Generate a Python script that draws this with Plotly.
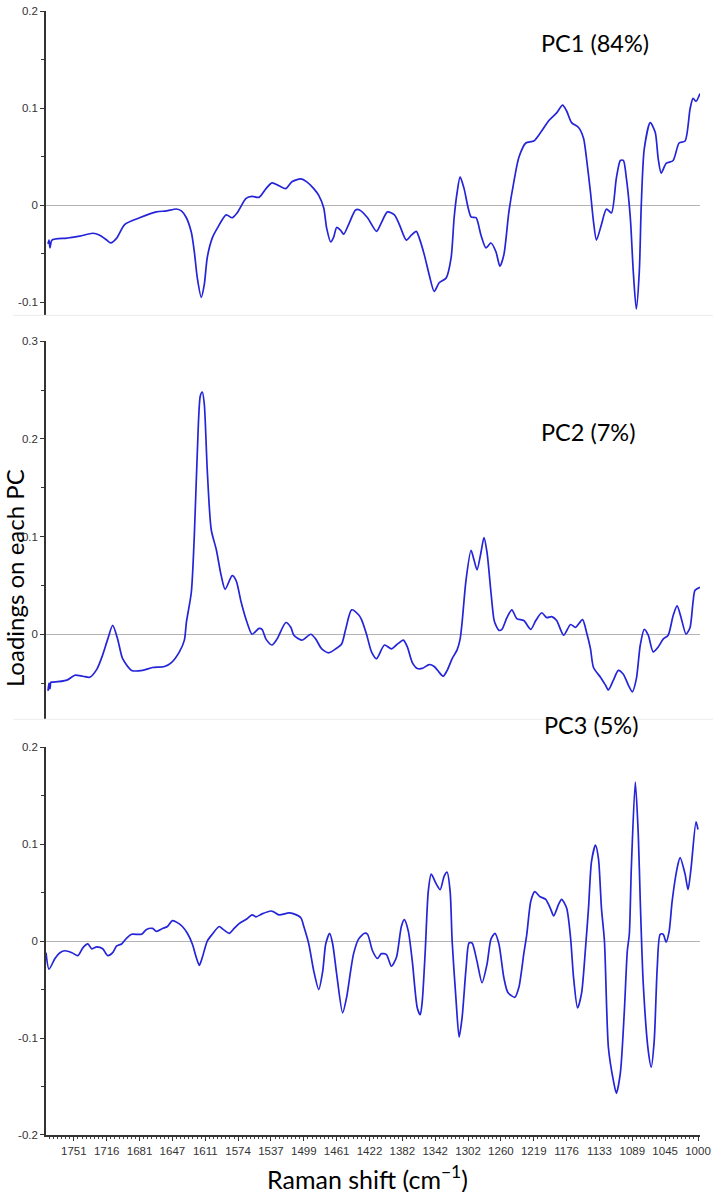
import plotly.graph_objects as go
from plotly.subplots import make_subplots

# Spectral point index (x) and loadings (y) for each principal component
pc1_x = [2, 3, 4, 6, 21, 34, 47, 54, 61, 65, 71, 79, 94, 111, 121, 131, 136, 141, 146, 149, 152, 156, 159, 162,
         167, 172, 181, 187, 192, 201, 207, 214, 221, 227, 234, 241, 247, 256, 262, 269, 274, 279, 282, 286,
         289, 292, 296, 299, 304, 311, 315, 323, 332, 337, 343, 350, 355, 362, 367, 372, 375, 380, 385, 390,
         395, 402, 407, 410, 413, 416, 420, 427, 432, 437, 442, 447, 452, 456, 460, 465, 470, 475, 482, 490,
         497, 505, 513, 519, 523, 528, 535, 540, 543, 547, 550, 553, 558, 563, 568, 573, 577, 580, 583, 587,
         590, 593, 596, 598, 601, 607, 612, 615, 618, 623, 630, 636, 642, 647, 650, 653, 657]
pc1_y = [-0.040, -0.036, -0.044, -0.036, -0.034, -0.032, -0.029, -0.031, -0.036, -0.039, -0.034, -0.020,
         -0.013, -0.007, -0.006, -0.004, -0.006, -0.013, -0.028, -0.048, -0.075, -0.095, -0.082, -0.054,
         -0.034, -0.024, -0.010, -0.013, -0.008, 0.007, 0.009, 0.008, 0.017, 0.023, 0.020, 0.017, 0.024,
         0.027, 0.024, 0.017, 0.010, -0.003, -0.024, -0.038, -0.033, -0.023, -0.026, -0.030, -0.020, -0.005,
         -0.005, -0.013, -0.027, -0.018, -0.007, -0.010, -0.020, -0.036, -0.031, -0.027, -0.034, -0.051,
         -0.072, -0.089, -0.080, -0.075, -0.054, -0.013, 0.013, 0.029, 0.017, -0.012, -0.013, -0.031, -0.044,
         -0.039, -0.048, -0.063, -0.051, -0.007, 0.024, 0.049, 0.064, 0.066, 0.075, 0.087, 0.095, 0.103,
         0.097, 0.085, 0.080, 0.069, 0.048, 0.013, -0.017, -0.036, -0.020, -0.004, -0.008, 0.028, 0.046,
         0.046, 0.028, -0.013, -0.069, -0.107, -0.069, 0.000, 0.058, 0.085, 0.075, 0.048, 0.033, 0.043,
         0.046, 0.064, 0.066, 0.099, 0.110, 0.107, 0.115]

pc2_x = [2, 3, 4, 5, 7, 21, 29, 37, 44, 51, 57, 62, 67, 72, 77, 86, 97, 107, 119, 126, 134, 139, 141, 146,
         149, 152, 155, 157, 159, 162, 166, 171, 176, 180, 187, 191, 196, 202, 207, 214, 217, 221, 227, 232,
         241, 246, 249, 257, 266, 271, 277, 284, 291, 297, 301, 307, 314, 317, 322, 327, 332, 340, 347, 352,
         359, 363, 368, 373, 378, 385, 390, 395, 399, 403, 408, 413, 416, 418, 422, 427, 430, 433, 437, 440,
         443, 447, 450, 452, 455, 458, 463, 468, 473, 480, 487, 492, 498, 503, 508, 513, 520, 527, 532, 539,
         543, 547, 550, 557, 562, 565, 570, 575, 580, 585, 589, 593, 597, 601, 605, 610, 615, 620, 625, 630,
         634, 638, 643, 647, 650, 652, 657]
pc2_y = [-0.058, -0.050, -0.056, -0.049, -0.049, -0.047, -0.042, -0.043, -0.044, -0.036, -0.021, -0.005,
         0.009, -0.005, -0.025, -0.037, -0.037, -0.034, -0.033, -0.029, -0.018, -0.006, 0.012, 0.043, 0.101,
         0.186, 0.244, 0.248, 0.236, 0.168, 0.107, 0.087, 0.060, 0.046, 0.060, 0.055, 0.033, 0.012, 0.000,
         0.006, 0.005, -0.005, -0.011, -0.005, 0.012, 0.007, -0.001, -0.006, 0.000, -0.005, -0.015, -0.019,
         -0.015, -0.010, 0.005, 0.025, 0.020, 0.015, 0.000, -0.018, -0.025, -0.011, -0.015, -0.011, -0.006,
         -0.013, -0.029, -0.035, -0.035, -0.031, -0.033, -0.039, -0.043, -0.037, -0.025, -0.016, -0.005,
         0.012, 0.056, 0.086, 0.076, 0.066, 0.084, 0.099, 0.084, 0.043, 0.015, 0.009, 0.004, 0.005, 0.017,
         0.025, 0.016, 0.014, 0.005, 0.014, 0.022, 0.017, 0.018, 0.014, -0.001, 0.010, 0.007, 0.015, 0.002,
         -0.015, -0.034, -0.044, -0.052, -0.057, -0.047, -0.037, -0.041, -0.052, -0.059, -0.046, -0.011,
         0.005, -0.001, -0.018, -0.013, -0.005, -0.001, 0.019, 0.029, 0.017, 0.000, 0.007, 0.033, 0.045,
         0.048]

pc3_x = [0, 3, 9, 14, 19, 26, 32, 37, 42, 46, 51, 57, 62, 67, 71, 76, 81, 86, 96, 101, 107, 111, 117, 122,
         127, 132, 137, 142, 147, 151, 154, 157, 162, 167, 174, 178, 184, 189, 194, 202, 207, 211, 217, 226,
         229, 234, 244, 249, 256, 259, 264, 269, 274, 278, 281, 285, 288, 292, 298, 302, 306, 309, 314, 320,
         323, 328, 333, 337, 342, 347, 352, 357, 360, 364, 368, 373, 376, 378, 381, 384, 387, 392, 396, 400,
         403, 406, 408, 412, 415, 418, 422, 425, 428, 433, 438, 443, 447, 451, 455, 460, 464, 471, 475, 480,
         483, 487, 491, 496, 502, 507, 510, 515, 518, 523, 527, 530, 534, 538, 542, 545, 548, 552, 555, 558,
         561, 565, 570, 573, 577, 581, 584, 586, 588, 592, 595, 597, 600, 605, 608, 611, 614, 617, 620, 623,
         626, 629, 634, 637, 642, 645, 648, 653, 655]
pc3_y = [-0.012, -0.029, -0.018, -0.012, -0.010, -0.012, -0.015, -0.007, -0.003, -0.008, -0.006, -0.008,
         -0.015, -0.012, -0.005, -0.003, 0.003, 0.007, 0.007, 0.012, 0.013, 0.010, 0.013, 0.015, 0.021,
         0.019, 0.015, 0.008, -0.003, -0.017, -0.025, -0.017, 0.000, 0.007, 0.015, 0.012, 0.008, 0.013,
         0.018, 0.023, 0.027, 0.025, 0.028, 0.031, 0.030, 0.027, 0.029, 0.028, 0.024, 0.015, -0.003, -0.031,
         -0.050, -0.031, -0.003, 0.008, -0.003, -0.034, -0.074, -0.058, -0.031, -0.013, 0.002, 0.008, 0.007,
         -0.010, -0.018, -0.013, -0.014, -0.026, -0.017, 0.015, 0.022, 0.010, -0.021, -0.069, -0.076, -0.062,
         -0.010, 0.051, 0.069, 0.059, 0.053, 0.067, 0.071, 0.051, 0.000, -0.062, -0.099, -0.079, -0.028,
         -0.002, -0.002, -0.021, -0.043, -0.024, 0.002, 0.008, -0.003, -0.038, -0.053, -0.058, -0.048,
         -0.013, 0.007, 0.041, 0.051, 0.046, 0.043, 0.033, 0.026, 0.038, 0.043, 0.034, 0.003, -0.038, -0.069,
         -0.054, -0.007, 0.034, 0.082, 0.099, 0.085, 0.034, 0.000, -0.110, -0.144, -0.157, -0.136, -0.072,
         -0.010, 0.007, 0.075, 0.164, 0.110, 0.041, -0.044, -0.113, -0.130, -0.103, -0.028, 0.007, 0.007,
         -0.001, 0.010, 0.041, 0.075, 0.086, 0.069, 0.053, 0.075, 0.123, 0.115]

tick_pos = [28, 61, 94, 127, 160, 193, 226, 259, 292, 325, 358, 391, 424, 457, 490, 523, 556, 589, 622, 655]
tick_labels = ["1751", "1716", "1681", "1647", "1611", "1574", "1537", "1499", "1461", "1422", "1382",
               "1342", "1302", "1260", "1219", "1176", "1133", "1089", "1045", "1000"]
pc_labels = ["PC1 (84%)", "PC2 (7%)", "PC3 (5%)"]

LINE = "#2424d8"
TICKFONT = dict(family="Liberation Sans, Arial, sans-serif", size=11.5, color="#333333")
TEXTFONT = "Lato, Carlito, Calibri, sans-serif"

fig = make_subplots(rows=3, cols=1, shared_xaxes=False, vertical_spacing=0.02)
for i, (xs, ys) in enumerate([(pc1_x, pc1_y), (pc2_x, pc2_y), (pc3_x, pc3_y)]):
    fig.add_trace(go.Scatter(x=xs, y=ys, mode="lines", line=dict(color=LINE, width=1.7, shape="spline",
                                                                smoothing=0.7),
                             showlegend=False, hoverinfo="skip"), row=i + 1, col=1)

ydomains = [[0.7292, 1.0], [0.3699, 0.7062], [0.0, 0.3451]]
yranges = [[-0.1136, 0.2], [-0.087, 0.3], [-0.2, 0.2]]
yticks = [[-0.1, 0, 0.1, 0.2], [0, 0.1, 0.2, 0.3], [-0.2, -0.1, 0, 0.1, 0.2]]

layout = dict(width=716, height=1192, margin=dict(l=46, r=13, t=5, b=57),
              paper_bgcolor="white", plot_bgcolor="white")
for i in range(3):
    sfx = "" if i == 0 else str(i + 1)
    layout["yaxis" + sfx] = dict(
        domain=ydomains[i], range=yranges[i], tickvals=yticks[i],
        ticktext=[("0" if v == 0 else ("%g" % v)) for v in yticks[i]],
        showline=True, linecolor="#333333", linewidth=1.5, ticks="outside", ticklen=4,
        tickcolor="#333333", tickfont=TICKFONT, showgrid=False,
        zeroline=True, zerolinecolor="#b4b4b4", zerolinewidth=1.2,
        minor=dict(dtick=0.05, tick0=0, ticks="outside", ticklen=3, tickcolor="#333333"))
    xa = dict(domain=[0, 1], range=[0, 657], showgrid=False, zeroline=False)
    if i < 2:
        xa.update(showline=False, showticklabels=False, ticks="")
    else:
        xa.update(showline=True, linecolor="#333333", linewidth=1.5, ticks="outside", ticklen=4,
                  tickcolor="#333333", tickvals=tick_pos, ticktext=tick_labels, tickfont=TICKFONT,
                  minor=dict(tick0=28, dtick=4.125, ticks="outside", ticklen=2.5, tickcolor="#444444"))
    layout["xaxis" + sfx] = xa
fig.update_layout(**layout)

# faint separators between panels
for yb in [0.7292, 0.3699]:
    fig.add_shape(type="line", xref="paper", yref="paper", x0=-0.05, x1=1.02, y0=yb, y1=yb,
                  line=dict(color="#ececec", width=1))

label_pos = [(0.840, 0.9717), (0.828, 0.6257), (0.8326, 0.3646)]
for txt, (ax, ay) in zip(pc_labels, label_pos):
    fig.add_annotation(text=txt, x=ax, y=ay, xref="paper", yref="paper", showarrow=False,
                       xanchor="center", yanchor="middle", font=dict(family=TEXTFONT, size=23.5, color="black"))

fig.add_annotation(text="Loadings on each PC", x=-0.0472, y=0.4956, xref="paper", yref="paper",
                   showarrow=False, textangle=-90, xanchor="center", yanchor="middle",
                   font=dict(family=TEXTFONT, size=24, color="black"))
fig.add_annotation(text="Raman shift (cm<sup>−1</sup>)", x=0.4916, y=-0.038, xref="paper", yref="paper",
                   showarrow=False, xanchor="center", yanchor="middle",
                   font=dict(family=TEXTFONT, size=25, color="black"))

page_fix = ("document.documentElement.style.margin='0';document.documentElement.style.padding='0';"
            "document.body.style.margin='0';document.body.style.padding='0';"
            "document.body.style.overflow='hidden';document.documentElement.style.overflow='hidden';")
fig.write_html("out.html", post_script=page_fix, config={"displayModeBar": False})
